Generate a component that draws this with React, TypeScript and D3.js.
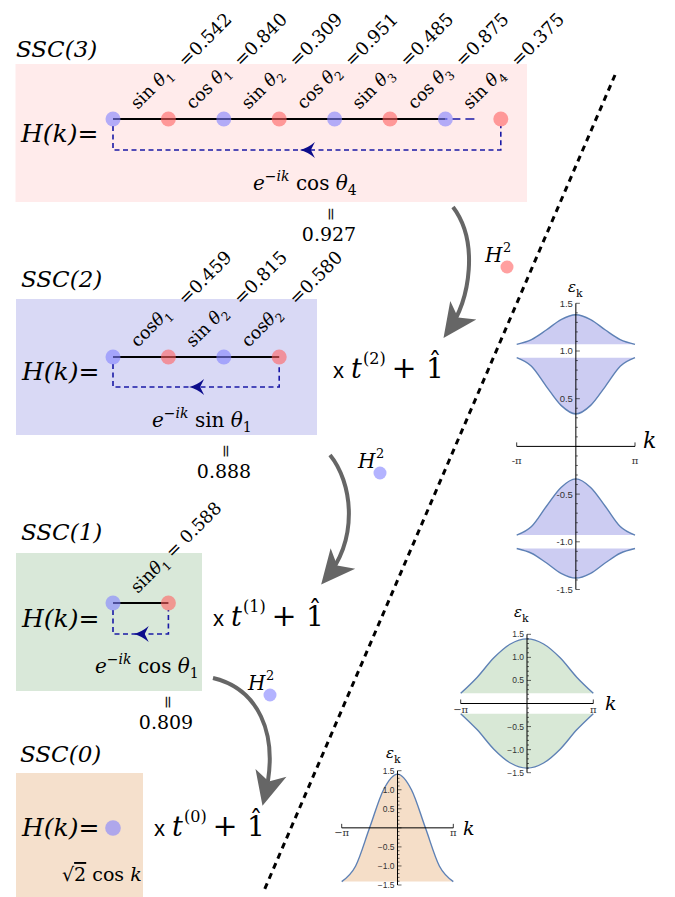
import React from 'react';
import * as d3 from 'd3';

const SERIF = "'DejaVu Serif', 'Liberation Serif', serif";
const SANS = "'Liberation Sans', 'DejaVu Sans', sans-serif";

// chains: site colours, bond labels and their values
const ssc3Sites = ['b', 'r', 'b', 'r', 'b', 'r', 'b', 'r'];
const ssc3Fns = ['sin ', 'cos ', 'sin ', 'cos ', 'sin ', 'cos ', 'sin '];
const ssc3Idx = ['1', '1', '2', '2', '3', '3', '4'];
const ssc3Vals = ['=0.542', '=0.840', '=0.309', '=0.951', '=0.485', '=0.875', '=0.375'];

const ssc2Sites = ['b', 'r', 'b', 'r'];
const ssc2Fns = ['cos', 'sin ', 'cos'];
const ssc2Idx = ['1', '2', '2'];
const ssc2Vals = ['=0.459', '=0.815', '=0.580'];

const ssc1Sites = ['b', 'r'];
const ssc1Fns = ['sin'];
const ssc1Idx = ['1'];
const ssc1Vals = [' = 0.588'];

const hopFns = ['cos ', 'sin ', 'cos '];
const hopIdx = ['4', '1', '1'];
const normVals = ['0.927', '0.888', '0.809'];

// band structures, k in units of π
const kGrid = [-1, -0.75, -0.5, -0.25, 0, 0.25, 0.5, 0.75, 1];
const ssc2Band1 = [1.07, 1.12, 1.22, 1.33, 1.38, 1.33, 1.22, 1.12, 1.07];
const ssc2Band2 = [0.93, 0.84, 0.63, 0.43, 0.34, 0.43, 0.63, 0.84, 0.93];
const ssc2Band3 = [-0.93, -0.84, -0.63, -0.43, -0.34, -0.43, -0.63, -0.84, -0.93];
const ssc2Band4 = [-1.07, -1.12, -1.22, -1.33, -1.38, -1.33, -1.22, -1.12, -1.07];
const ssc2Edges = [1.07, 0.93, -0.93, -1.07];

const ssc1Band1 = [0.22, 0.57, 0.99, 1.29, 1.4, 1.29, 0.99, 0.57, 0.22];
const ssc1Band2 = [-0.22, -0.57, -0.99, -1.29, -1.4, -1.29, -0.99, -0.57, -0.22];
const ssc1Edges = [0.22, -0.22];

const ssc0Band = [-1.41, -1.0, 0.0, 1.0, 1.41, 1.0, 0.0, -1.0, -1.41];
const ssc0Edges = [-1.41];

const yTickVals = [-1.5, -1, -0.5, 0.5, 1, 1.5];
const yTickHyphen = ['-1.5', '-1.0', '-0.5', '0.5', '1.0', '1.5'];
const yTickMinus = ['−1.5', '−1.0', '−0.5', '0.5', '1.0', '1.5'];

const BLUE = '#8080ff';
const PINK = '#ff6060';

const serif = { fontFamily: SERIF };
const sans = { fontFamily: SANS };

const Site = ({ x, y, kind, r = 7.5 }: any) => (
  <circle cx={x} cy={y} r={r} fill={kind === 'b' ? BLUE : PINK} fillOpacity={0.6} />
);

const siteX = (n: number) =>
  d3.scaleLinear().domain([0, Math.max(1, n - 1)]).range([113, 113 + 55.4 * Math.max(1, n - 1)]);

function Chain({ sites, fns, idx, vals, y, loopY, broken, joined }: any) {
  const x = siteX(sites.length);
  const last = sites.length - 1;
  const solidEnd = broken ? x(last - 1) : x(last);
  const mid = (x(0) + x(last)) / 2;
  const tx = mid - 7;
  return (
    <g>
      <line x1={x(0)} x2={solidEnd} y1={y} y2={y} stroke="#000" strokeWidth={2} />
      {broken && (
        <line x1={x(last - 1)} x2={x(last - 1) + 30} y1={y} y2={y} stroke="#1a1aa6"
          strokeWidth={1.6} strokeDasharray="2 5 8 5 9" />
      )}
      <path d={`M${x(0)},${y + 7} V${loopY} H${x(last)} V${y + 7}`} fill="none"
        stroke="#1a1aa6" strokeWidth={1.6} strokeDasharray="5 3.5" />
      <path d={`M${tx},${loopY} Q${tx + 8},${loopY - 2} ${tx + 15},${loopY - 8} L${tx + 11},${loopY} L${tx + 15},${loopY + 8} Q${tx + 8},${loopY + 2} ${tx},${loopY} Z`}
        fill="#0c0c8c" />
      {sites.map((s: string, i: number) => <Site key={i} x={x(i)} y={y} kind={s} />)}
      {fns.map((f: string, i: number) => {
        const bx = (x(i) + x(i + 1)) / 2 - 3;
        return (
          <g key={i} transform={`translate(${bx},${y - 9}) rotate(-45)`} style={{ ...serif, fontSize: 17.5 }}>
            <text style={{ whiteSpace: 'pre' }}>
              <tspan>{f}</tspan>
              <tspan fontStyle="italic">θ</tspan>
              <tspan fontSize={12} dy={5}>{idx[i]}</tspan>
              {joined && <tspan dy={-5}>{vals[i]}</tspan>}
            </text>
            {!joined && <text x={64} y={4} fontSize={18}>{vals[i]}</text>}
          </g>
        );
      })}
    </g>
  );
}

const HK = ({ x, y }: any) => (
  <text x={x} y={y} style={serif} fontSize={25} fontStyle="italic">H(k)=</text>
);

const Title = ({ x, y, n }: any) => (
  <text x={x} y={y} style={serif} fontSize={23} fontStyle="italic">{`SSC(${n})`}</text>
);

const Hop = ({ x, y, fn, sub }: any) => (
  <text x={x} y={y} fontSize={20} style={{ ...serif, whiteSpace: 'pre' }}>
    <tspan fontStyle="italic">e</tspan>
    <tspan fontSize={14} dy={-9}>−</tspan>
    <tspan fontSize={14} fontStyle="italic">ik</tspan>
    <tspan dy={9}>{' ' + fn}</tspan>
    <tspan fontStyle="italic">θ</tspan>
    <tspan fontSize={14} dy={5}>{sub}</tspan>
  </text>
);

const Norm = ({ x, y, val }: any) => (
  <g style={serif}>
    <text transform={`translate(${x},${y}) rotate(90)`} textAnchor="middle" fontSize={17} dy={5} fill="#222">=</text>
    <text x={x - 2} y={y + 27} textAnchor="middle" fontSize={19}>{val}</text>
  </g>
);

const Times = ({ x, y, n }: any) => (
  <g>
    <text x={x} y={y} style={sans} fontSize={22}>x</text>
    <text x={x + 18} y={y} style={serif} fontSize={27} fontStyle="italic">t</text>
    <text x={x + 30} y={y - 14} style={serif} fontSize={16}>{`(${n})`}</text>
    <text x={x + 71} y={y} style={serif} fontSize={30} textAnchor="middle">+</text>
    <text x={x + 102} y={y} style={serif} fontSize={28} textAnchor="middle">1</text>
    <text x={x + 102} y={y - 7} style={serif} fontSize={26} textAnchor="middle">ˆ</text>
  </g>
);

const HSq = ({ x, y, kind }: any) => (
  <g>
    <text x={x} y={y} style={serif} fontSize={20} fontStyle="italic">H</text>
    <text x={x + 18} y={y - 10} style={serif} fontSize={13}>2</text>
    <circle cx={x + 22} cy={y + 5} r={6.5} fill={kind === 'b' ? BLUE : PINK} fillOpacity={0.6} />
  </g>
);

function BandPlot({ xr, yr, curves, edges, fill, tickLabels, tickSize, piDy, piMinus, eps, kLab, kSize }: any) {
  const x = d3.scaleLinear().domain([-1, 1]).range(xr);
  const y = d3.scaleLinear().domain([-1.5, 1.5]).range(yr);
  const line = d3.line<number>().x((_, i) => x(kGrid[i])).y((d) => y(d)).curve(d3.curveMonotoneX);
  const area = (edge: number) =>
    d3.area<number>().x((_, i) => x(kGrid[i])).y0(y(edge)).y1((d) => y(d)).curve(d3.curveMonotoneX);
  const x0 = x(0);
  const y0 = y(0);
  const minor = d3.range(-15, 16).map((v) => v / 10);
  return (
    <g>
      {curves.map((c: number[], i: number) => <path key={'a' + i} d={area(edges[i])(c) || ''} fill={fill} />)}
      {curves.map((c: number[], i: number) => (
        <path key={'l' + i} d={line(c) || ''} fill="none" stroke="#5e81b5" strokeWidth={1.4} />
      ))}
      <line x1={x(-1)} x2={x(1)} y1={y0} y2={y0} stroke="#000" strokeWidth={1} />
      <line x1={x0} x2={x0} y1={y(-1.5)} y2={y(1.5)} stroke="#000" strokeWidth={1} />
      {minor.map((v) => {
        const major = Math.abs(v * 2 - Math.round(v * 2)) < 1e-6;
        return <line key={v} x1={x0} x2={x0 + (major ? 4 : 2)} y1={y(v)} y2={y(v)} stroke="#000" strokeWidth={0.6} />;
      })}
      {[-1, 1].map((v) => <line key={v} x1={x(v)} x2={x(v)} y1={y0} y2={y0 - 4} stroke="#000" strokeWidth={0.8} />)}
      {yTickVals.map((v, i) => (
        <text key={v} x={x0 - 3} y={y(v) + tickSize * 0.36} textAnchor="end" style={sans}
          fontSize={tickSize} fill="#333">{tickLabels[i]}</text>
      ))}
      <text x={x(-1)} y={y0 + piDy} textAnchor="middle" style={serif} fontSize={10} fill="#333">{piMinus + 'π'}</text>
      <text x={x(1)} y={y0 + piDy} textAnchor="middle" style={serif} fontSize={10} fill="#333">π</text>
      <text x={eps[0]} y={eps[1]} style={serif} fontSize={15}>
        <tspan fontStyle="italic">ε</tspan>
        <tspan fontSize={11} dy={5}>k</tspan>
      </text>
      <text x={kLab[0]} y={kLab[1]} style={serif} fontSize={kSize} fontStyle="italic">k</text>
    </g>
  );
}

export default function App() {
  return (
    <svg width={675} height={897} style={{ position: 'absolute', left: 0, top: 0, background: '#fff', fontFamily: SERIF }}>
      <defs>
        <marker id="ah" markerUnits="userSpaceOnUse" viewBox="-30 -17 37 34" markerWidth={37} markerHeight={34}
          refX={0} refY={0} orient="auto">
          <path d="M6,0 L-28,-16 L-19,0 L-28,16 Z" fill="#666" />
        </marker>
      </defs>

      {/* SSC(3) */}
      <rect x={15.5} y={64} width={511.5} height={138} fill="#ffebeb" />
      <Title x={16} y={57} n={3} />
      <HK x={21} y={142} />
      <Chain sites={ssc3Sites} fns={ssc3Fns} idx={ssc3Idx} vals={ssc3Vals} y={119} loopY={150} broken />
      <Hop x={253} y={190} fn={hopFns[0]} sub={hopIdx[0]} />
      <Norm x={331} y={214} val={normVals[0]} />

      {/* SSC(2) */}
      <rect x={16} y={299} width={301} height={136} fill="#d9d9f5" />
      <Title x={21} y={287} n={2} />
      <HK x={22} y={380} />
      <Chain sites={ssc2Sites} fns={ssc2Fns} idx={ssc2Idx} vals={ssc2Vals} y={357} loopY={387} />
      <Hop x={152} y={427} fn={hopFns[1]} sub={hopIdx[1]} />
      <Times x={333} y={378} n={2} />
      <Norm x={226} y={451} val={normVals[1]} />

      {/* SSC(1) */}
      <rect x={16} y={553} width={186} height={138} fill="#d9e8d9" />
      <Title x={21} y={540} n={1} />
      <HK x={22} y={627} />
      <Chain sites={ssc1Sites} fns={ssc1Fns} idx={ssc1Idx} vals={ssc1Vals} y={603} loopY={634} joined />
      <Hop x={95} y={673} fn={hopFns[2]} sub={hopIdx[2]} />
      <Times x={213} y={626} n={1} />
      <Norm x={168} y={702} val={normVals[2]} />

      {/* SSC(0) */}
      <rect x={16} y={773} width={127} height={124} fill="#f5e0cc" />
      <Title x={20} y={762} n={0} />
      <HK x={22} y={836} />
      <Site x={113} y={828} kind="b" r={7.8} />
      <text x={62} y={881} style={serif} fontSize={19}>
        <tspan>√</tspan>
        <tspan style={{ textDecoration: 'overline' }}>2</tspan>
        <tspan> cos </tspan>
        <tspan fontStyle="italic">k</tspan>
      </text>
      <Times x={154} y={836} n={0} />

      {/* divider */}
      <line x1={615} y1={75} x2={263} y2={893} stroke="#000" strokeWidth={3} strokeDasharray="6 5" />

      {/* curved arrows */}
      <path d="M453,207 C478,240 472,298 447,333" fill="none" stroke="#666" strokeWidth={4} markerEnd="url(#ah)" />
      <path d="M330,455 C352,482 360,538 325,580" fill="none" stroke="#666" strokeWidth={4} markerEnd="url(#ah)" />
      <path d="M213,678 C255,688 282,730 264,800" fill="none" stroke="#666" strokeWidth={4} markerEnd="url(#ah)" />

      <HSq x={485} y={262} kind="r" />
      <HSq x={358} y={468} kind="b" />
      <HSq x={248} y={690} kind="b" />

      {/* band plots */}
      <BandPlot xr={[516.7, 635]} yr={[589.5, 303.3]} curves={[ssc2Band1, ssc2Band2, ssc2Band3, ssc2Band4]}
        edges={ssc2Edges} fill="#ccccf2" tickLabels={yTickHyphen} tickSize={9.5} piDy={18} piMinus="-"
        eps={[568, 292]} kLab={[643, 448]} kSize={22} />
      <BandPlot xr={[460.7, 593.3]} yr={[772.7, 634.3]} curves={[ssc1Band1, ssc1Band2]}
        edges={ssc1Edges} fill="#d8e8d6" tickLabels={yTickMinus} tickSize={8.5} piDy={9} piMinus="−"
        eps={[514, 617]} kLab={[605, 710]} kSize={19} />
      <BandPlot xr={[341.7, 453.3]} yr={[885, 770.7]} curves={[ssc0Band]}
        edges={ssc0Edges} fill="#f5dec8" tickLabels={yTickMinus} tickSize={8.5} piDy={8} piMinus="−"
        eps={[386, 758]} kLab={[463, 835]} kSize={19} />
    </svg>
  );
}
